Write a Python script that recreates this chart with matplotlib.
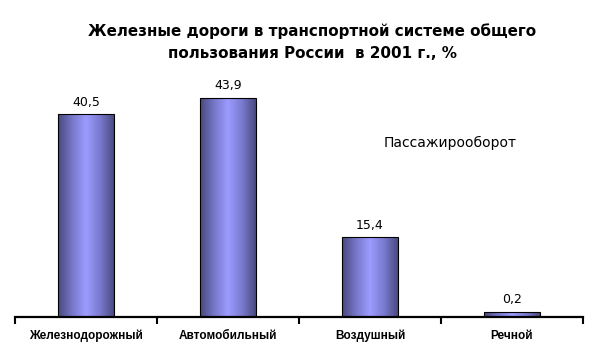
import numpy as np
import matplotlib
matplotlib.use("Agg")
import matplotlib.pyplot as plt
from matplotlib.colors import LinearSegmentedColormap

categories = ["Железнодорожный", "Автомобильный", "Воздушный", "Речной"]
values = [40.5, 43.9, 15.4, 0.2]
value_labels = ["40,5", "43,9", "15,4", "0,2"]
title = "Железные дороги в транспортной системе общего\nпользования России  в 2001 г., %"
note = "Пассажирооборот"

plt.rcParams['font.family'] = ['DejaVu Sans']

baseline = -0.8  # horizontal axis crossing value

fig = plt.figure(figsize=(6.11, 3.52), dpi=100)
ax = fig.add_axes([15/611, (352-316.5)/352, 568/611, 248.7/352])

x = np.arange(len(categories))
heights = [v - baseline for v in values]
bars = ax.bar(x, heights, bottom=baseline, width=0.39, facecolor='none',
              edgecolor='black', linewidth=0.8, zorder=3)

cmap = LinearSegmentedColormap.from_list("g", ["#48487e", "#7676c8", "#9c9cff", "#7a7ad0", "#4a4a80"])
grad = np.linspace(0, 1, 256).reshape(1, -1)
for b in bars:
    x0, y0 = b.get_x(), b.get_y()
    w, h = b.get_width(), b.get_height()
    im = ax.imshow(grad, cmap=cmap, extent=[x0, x0 + w, y0, y0 + h], aspect='auto', zorder=2)
    im.set_clip_path(b)

for xi, v, lab in zip(x, values, value_labels):
    ax.text(xi, v + 1.1, lab, ha='center', va='bottom', fontsize=9)

ax.set_xlim(-0.5, len(categories) - 0.5)
ax.set_ylim(baseline, 50)
ax.set_xticks(np.arange(-0.5, len(categories), 1.0))
ax.set_xticklabels([])
ax.set_xticks(x, minor=True)
ax.set_xticklabels(categories, minor=True, fontsize=8.5, fontweight='bold',
                   family=['Liberation Sans', 'DejaVu Sans'])
ax.tick_params(axis='x', which='major', length=5, width=1.5, direction='out')
ax.tick_params(axis='x', which='minor', length=0, pad=9.5)
ax.set_yticks([])
for s in ['top', 'right', 'left']:
    ax.spines[s].set_visible(False)
ax.spines['bottom'].set_linewidth(1.6)
ax.spines['bottom'].set_zorder(4)

fig.text(312/611, 1 - 42.5/352, title, ha='center', va='center', fontsize=10.9,
         fontweight='bold', linespacing=1.6)
fig.text(450/611, 1 - 143/352, note, ha='center', va='center', fontsize=10)

fig.savefig("out.png", dpi=100)
